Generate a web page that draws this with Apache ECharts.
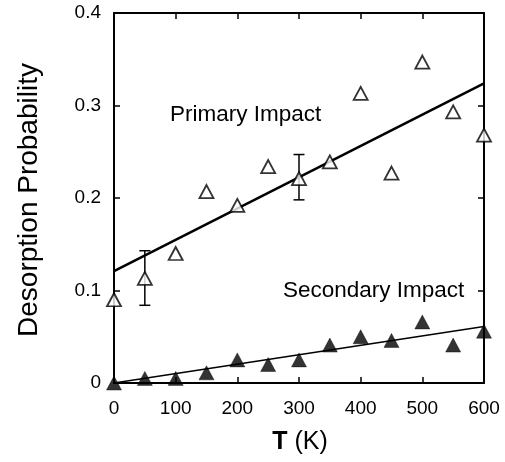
<!DOCTYPE html>
<html>
<head>
<meta charset="utf-8">
<script src="https://cdn.jsdelivr.net/npm/echarts@6/dist/echarts.min.js"></script>
<style>
  html, body { margin: 0; padding: 0; background: #fff; }
  #chart { width: 505px; height: 462px; }
</style>
</head>
<body>
<div id="chart"></div>
<script>
// Temperatures (K) at which desorption was sampled
var temperatures = [0, 50, 100, 150, 200, 250, 300, 350, 400, 450, 500, 550, 600];
// Desorption probability after the primary impact (open triangles)
var primaryValues = [0.090, 0.113, 0.140, 0.207, 0.192, 0.234, 0.221, 0.239, 0.313, 0.227, 0.347, 0.293, 0.268];
// Desorption probability after the secondary impact (filled triangles)
var secondaryValues = [0.000, 0.005, 0.005, 0.011, 0.025, 0.020, 0.025, 0.041, 0.050, 0.046, 0.066, 0.041, 0.056];
// Error bars on selected primary points: [T, low, high]
var primaryErrors = [[50, 0.084, 0.143], [300, 0.198, 0.247]];
// Linear fits, given by their end points
var primaryFit = [[0, 0.121], [600, 0.324]];
var secondaryFit = [[0, 0.000], [600, 0.061]];
// Tick labels
var xTicks = [0, 100, 200, 300, 400, 500, 600];
var yTicks = [0, 0.1, 0.2, 0.3, 0.4];

var FONT = '"Liberation Sans", Arial, Helvetica, sans-serif';

function pairs(xs, ys) {
  return xs.map(function (x, i) { return [x, ys[i]]; });
}

var chart = echarts.init(document.getElementById('chart'), null, { renderer: 'canvas' });

var axisCommon = {
  type: 'value',
  axisLine: { show: true, onZero: false, lineStyle: { color: '#000', width: 2 } },
  axisTick: { show: true, inside: true, length: 6, lineStyle: { color: '#000', width: 1.5 } },
  splitLine: { show: false }
};

var option = {
  backgroundColor: '#fff',
  animation: false,
  grid: { left: 114, right: 21, top: 13, bottom: 79, containLabel: false },
  xAxis: [
    Object.assign({}, axisCommon, {
      min: 0, max: 600, interval: 100,
      axisLabel: {
        margin: 16, color: '#000', fontFamily: FONT, fontSize: 19,
        formatter: function (v) { return xTicks.indexOf(v) >= 0 ? String(v) : ''; }
      }
    }),
    Object.assign({}, axisCommon, {
      position: 'top', min: 0, max: 600, interval: 100,
      axisLabel: { show: false }
    })
  ],
  yAxis: [
    Object.assign({}, axisCommon, {
      min: 0, max: 0.4, interval: 0.1,
      axisLabel: {
        margin: 13, color: '#000', fontFamily: FONT, fontSize: 19,
        formatter: function (v) {
          var t = yTicks.find(function (y) { return Math.abs(y - v) < 1e-9; });
          return t === undefined ? '' : (t === 0 ? '0' : String(t));
        }
      }
    }),
    Object.assign({}, axisCommon, {
      position: 'right', min: 0, max: 0.4, interval: 0.1,
      axisLabel: { show: false }
    })
  ],
  series: [
    {
      type: 'line', data: primaryFit, symbol: 'none', z: 2,
      lineStyle: { color: '#000', width: 2.5 }
    },
    {
      type: 'line', data: secondaryFit, symbol: 'none', z: 2,
      lineStyle: { color: '#000', width: 1.6 }
    },
    {
      type: 'custom', z: 3,
      data: primaryErrors,
      renderItem: function (params, api) {
        var x = api.value(0);
        var lo = api.coord([x, api.value(1)]);
        var hi = api.coord([x, api.value(2)]);
        var half = 5.5;
        var style = { stroke: '#000', lineWidth: 1.5 };
        return {
          type: 'group',
          children: [
            { type: 'line', shape: { x1: lo[0], y1: lo[1], x2: hi[0], y2: hi[1] }, style: style },
            { type: 'line', shape: { x1: lo[0] - half, y1: lo[1], x2: lo[0] + half, y2: lo[1] }, style: style },
            { type: 'line', shape: { x1: hi[0] - half, y1: hi[1], x2: hi[0] + half, y2: hi[1] }, style: style }
          ]
        };
      }
    },
    {
      type: 'scatter', z: 4, clip: false,
      data: pairs(temperatures, primaryValues),
      symbol: 'triangle', symbolSize: [14, 13],
      itemStyle: { color: '#fff', borderColor: '#000', borderWidth: 1.8 }
    },
    {
      type: 'scatter', z: 4, clip: false,
      data: pairs(temperatures, secondaryValues),
      symbol: 'triangle', symbolSize: [15, 14],
      itemStyle: { color: '#000', borderColor: '#000', borderWidth: 0.5 }
    }
  ],
  graphic: [
    {
      type: 'text', left: 170, top: 103,
      style: { text: 'Primary Impact', font: '22.5px ' + FONT, fill: '#000' }
    },
    {
      type: 'text', left: 283, top: 279,
      style: { text: 'Secondary Impact', font: '22.5px ' + FONT, fill: '#000' }
    },
    {
      type: 'text', x: 300, y: 442,
      style: {
        text: '{b|T} (K)', align: 'center', verticalAlign: 'middle',
        font: '25px ' + FONT, fill: '#000',
        rich: { b: { fontWeight: 'bold', fontSize: 25, fontFamily: FONT } }
      }
    },
    {
      type: 'text', x: 29, y: 200, rotation: Math.PI / 2,
      style: {
        text: 'Desorption Probability', align: 'center', verticalAlign: 'middle',
        font: '28px ' + FONT, fill: '#000'
      }
    }
  ]
};

chart.setOption(option);
</script>
</body>
</html>
